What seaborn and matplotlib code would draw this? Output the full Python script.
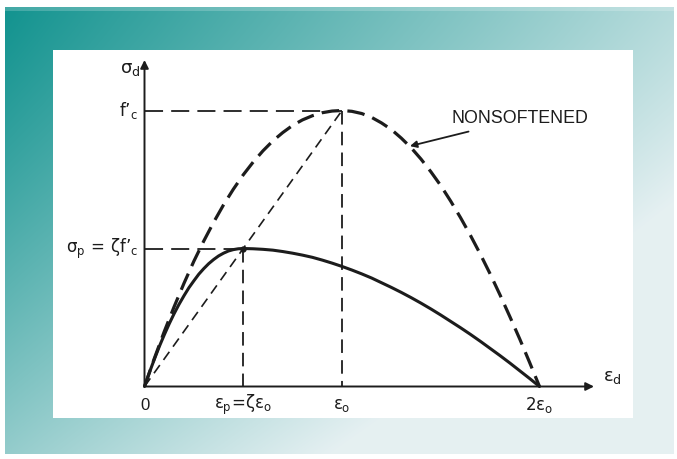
import numpy as np
import pandas as pd
import matplotlib
matplotlib.use("Agg")
import matplotlib.pyplot as plt
import seaborn as sns

# Normalised strain (eps / eps_o) and stress (sigma / f'c)
strain_nonsoft = [0.0, 0.05, 0.1, 0.15, 0.2, 0.25, 0.3, 0.35, 0.4, 0.45, 0.5,
                  0.55, 0.6, 0.65, 0.7, 0.75, 0.8, 0.85, 0.9, 0.95, 1.0,
                  1.05, 1.1, 1.15, 1.2, 1.25, 1.3, 1.35, 1.4, 1.45, 1.5,
                  1.55, 1.6, 1.65, 1.7, 1.75, 1.8, 1.85, 1.9, 1.95, 2.0]
stress_nonsoft = [0.0, 0.102, 0.199, 0.289, 0.374, 0.454, 0.527, 0.595, 0.658, 0.715, 0.767,
                  0.813, 0.854, 0.890, 0.920, 0.946, 0.966, 0.981, 0.992, 0.998, 1.0,
                  0.997, 0.989, 0.975, 0.955, 0.931, 0.900, 0.865, 0.824, 0.778, 0.728,
                  0.672, 0.612, 0.548, 0.480, 0.408, 0.332, 0.253, 0.172, 0.087, 0.0]

strain_soft = [0.0, 0.025, 0.05, 0.075, 0.1, 0.125, 0.15, 0.175, 0.2, 0.225, 0.25,
               0.275, 0.3, 0.325, 0.35, 0.375, 0.4, 0.425, 0.45, 0.475, 0.5,
               0.55, 0.6, 0.65, 0.7, 0.75, 0.8, 0.85, 0.9, 0.95, 1.0,
               1.05, 1.1, 1.15, 1.2, 1.25, 1.3, 1.35, 1.4, 1.45, 1.5,
               1.55, 1.6, 1.65, 1.7, 1.75, 1.8, 1.85, 1.9, 1.95, 2.0]
stress_soft = [0.0, 0.051, 0.099, 0.145, 0.187, 0.227, 0.264, 0.298, 0.329, 0.358, 0.383,
               0.407, 0.427, 0.445, 0.460, 0.473, 0.483, 0.491, 0.496, 0.499, 0.5,
               0.499, 0.497, 0.494, 0.489, 0.483, 0.476, 0.468, 0.458, 0.447, 0.435,
               0.422, 0.408, 0.393, 0.376, 0.359, 0.341, 0.322, 0.302, 0.281, 0.259,
               0.236, 0.213, 0.189, 0.164, 0.138, 0.112, 0.085, 0.057, 0.029, 0.0]

zeta = 0.5          # softening coefficient
eps_o = 1.0         # strain at peak of nonsoftened curve
fc = 1.0            # peak stress f'c

x_tick_pos = [0.0, zeta * eps_o, eps_o, 2 * eps_o]
x_tick_labels = ["0", r"$\varepsilon_\mathrm{p}\!=\!\zeta\varepsilon_\mathrm{o}$",
                 r"$\varepsilon_\mathrm{o}$", r"$2\varepsilon_\mathrm{o}$"]
y_tick_pos = [fc, zeta * fc]
y_tick_labels = ["$\\mathrm{f\u2019}_\\mathrm{c}$",
                 "$\\sigma_\\mathrm{p}\\,=\\,\\zeta \\mathrm{f\u2019}_\\mathrm{c}$"]

sns.set_style("white")
plt.rcParams["font.family"] = ["Liberation Sans", "DejaVu Sans"]
plt.rcParams["mathtext.fontset"] = "custom"
plt.rcParams["mathtext.rm"] = "DejaVu Sans"
plt.rcParams["mathtext.it"] = "DejaVu Sans"
plt.rcParams["mathtext.sf"] = "DejaVu Sans"
plt.rcParams["mathtext.bf"] = "DejaVu Sans:bold"

W, H = 677, 459
fig = plt.figure(figsize=(W / 100, H / 100), dpi=100)

# ---- teal gradient frame behind the drawing panel ----
bg = fig.add_axes([0, 0, 1, 1])
bg.set_axis_off()
yy, xx = np.mgrid[0:H, 0:W]
u = xx / W
v = yy / H
w = np.clip(0.75 * u ** 0.95 + 0.6 * v ** 1.2, 0, 0.97)[..., None]
teal = np.array([16, 146, 142]) / 255
light = np.array([236, 243, 245]) / 255
img = teal * (1 - w) + light * w
# soft highlight along the top edge
top_band = (yy >= 7) & (yy < 11)
img[top_band] = img[top_band] * 0.8 + 0.2
frame = (xx >= 5) & (xx <= 673) & (yy >= 7) & (yy <= 453)
img[~frame] = 1.0
bg.imshow(img, extent=[0, W, H, 0], aspect="auto", interpolation="bilinear")
bg.set_xlim(0, W)
bg.set_ylim(H, 0)

# ---- white drawing panel: axes mapped to pixel geometry ----
px0, py0 = 144.5, 386.5     # origin in pixels
sx, sy = 197.5, 276.0       # pixels per unit
left, right, top, bottom = 53, 633, 50, 418
ax = fig.add_axes([left / W, 1 - bottom / H, (right - left) / W, (bottom - top) / H])
ax.set_facecolor("white")
ax.set_xlim((left - px0) / sx, (right - px0) / sx)
ax.set_ylim((py0 - bottom) / sy, (py0 - top) / sy)
for s in ax.spines.values():
    s.set_visible(False)
ax.set_xticks([])
ax.set_yticks([])

ink = "#1c1c1c"

# reference construction lines
ax.plot([0, eps_o], [fc, fc], color=ink, lw=1.3, linestyle=(0, (10, 4.5)))
ax.plot([eps_o, eps_o], [fc, 0], color=ink, lw=1.3, linestyle=(0, (7.5, 4)))
ax.plot([0, eps_o], [0, fc], color=ink, lw=1.2, linestyle=(0, (6, 3.8)))
ax.plot([0, zeta * eps_o], [zeta * fc, zeta * fc], color=ink, lw=1.3, linestyle=(0, (10, 4.5)))
ax.plot([zeta * eps_o, zeta * eps_o], [zeta * fc, 0], color=ink, lw=1.3, linestyle=(0, (7.5, 4)))

# stress-strain curves
df_ns = pd.DataFrame({"strain": strain_nonsoft, "stress": stress_nonsoft})
df_s = pd.DataFrame({"strain": strain_soft, "stress": stress_soft})
sns.lineplot(data=df_ns, x="strain", y="stress", ax=ax, color=ink, lw=2.3,
             linestyle=(0, (5.5, 2.6)), sort=False, estimator=None)
sns.lineplot(data=df_s, x="strain", y="stress", ax=ax, color=ink, lw=2.2,
             sort=False, estimator=None)
ax.plot([zeta * eps_o], [zeta * fc], "o", color=ink, ms=3.5)
ax.set_xlabel("")
ax.set_ylabel("")

# coordinate axes with arrows
ax.annotate("", xy=((594 - px0) / sx, 0), xytext=(0, 0),
            arrowprops=dict(arrowstyle="-|>", color=ink, lw=1.4, mutation_scale=12,
                            shrinkA=0, shrinkB=0))
ax.annotate("", xy=(0, (py0 - 60) / sy), xytext=(0, 0),
            arrowprops=dict(arrowstyle="-|>", color=ink, lw=1.4, mutation_scale=12,
                            shrinkA=0, shrinkB=0))

# axis labels
ax.text((130 - px0) / sx, (py0 - 70) / sy, r"$\sigma_\mathrm{d}$", fontsize=13,
        color=ink, ha="center", va="center")
ax.text((612 - px0) / sx, (py0 - 378) / sy, r"$\varepsilon_\mathrm{d}$", fontsize=13,
        color=ink, ha="center", va="center")

# tick labels
for xp, lab in zip(x_tick_pos, x_tick_labels):
    ax.text(xp, (py0 - 405) / sy, lab, fontsize=12, color=ink, ha="center", va="center")
for yp, lab in zip(y_tick_pos, y_tick_labels):
    ax.text((138 - px0) / sx, yp, lab, fontsize=12, color=ink, ha="right", va="center")

# curve annotation
ax.annotate("NONSOFTENED", xy=(1.344, 0.871), xytext=(1.555, 0.97),
            fontsize=12.8, color=ink, ha="left", va="center",
            arrowprops=dict(arrowstyle="-|>", color=ink, lw=1.3, mutation_scale=10,
                            shrinkA=3, shrinkB=0))

fig.savefig("out.png", dpi=100)
